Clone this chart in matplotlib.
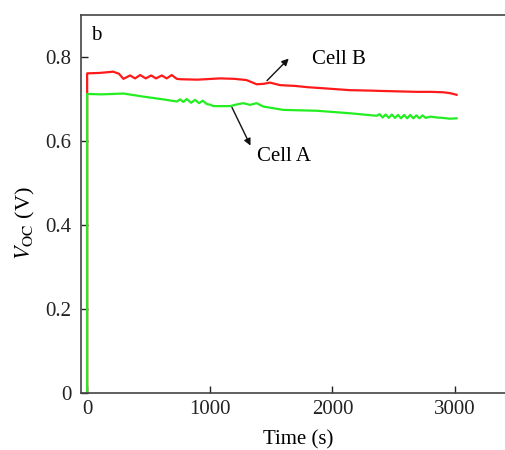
"""Open-circuit voltage vs time for cells A and B (panel b)."""
import matplotlib
matplotlib.use("Agg")
import matplotlib.pyplot as plt

plt.rcParams["font.family"] = ["Liberation Serif", "DejaVu Serif"]
plt.rcParams["mathtext.fontset"] = "stix"

# Cell B (red)
t_b = [0, 0, 100, 212, 260, 296, 350, 391, 432, 478, 522, 562, 609, 649, 690,
       731, 760, 900, 1084, 1200, 1300, 1383, 1437, 1491, 1573, 1700, 1800,
       1950, 2143, 2300, 2415, 2550, 2687, 2800, 2903, 2958, 3013]
v_b = [0, 0.761, 0.762, 0.765, 0.760, 0.748, 0.756, 0.749, 0.757, 0.749, 0.756,
       0.749, 0.756, 0.749, 0.757, 0.748, 0.747, 0.746, 0.749, 0.748, 0.745,
       0.735, 0.736, 0.739, 0.733, 0.731, 0.728, 0.725, 0.721, 0.720, 0.719,
       0.718, 0.717, 0.717, 0.716, 0.714, 0.710]

# Cell A (green)
t_a = [0, 0, 120, 296, 450, 622, 731, 758, 785, 812, 848, 880, 913, 943, 975,
       1008, 1030, 1166, 1220, 1274, 1328, 1382, 1437, 1600, 1872, 2143, 2361,
       2385, 2410, 2435, 2460, 2485, 2510, 2535, 2560, 2585, 2610, 2635, 2660,
       2685, 2710, 2735, 2760, 2800, 2850, 2900, 2958, 3013]
v_a = [0, 0.712, 0.711, 0.713, 0.706, 0.699, 0.694, 0.699, 0.693, 0.700, 0.691,
       0.698, 0.690, 0.696, 0.688, 0.686, 0.683, 0.683, 0.687, 0.690, 0.686,
       0.690, 0.682, 0.674, 0.672, 0.666, 0.660, 0.664, 0.656, 0.663, 0.655,
       0.663, 0.655, 0.662, 0.654, 0.662, 0.654, 0.662, 0.654, 0.661, 0.654,
       0.661, 0.655, 0.658, 0.656, 0.655, 0.653, 0.654]

x_ticks = [0, 1000, 2000, 3000]
y_ticks = [0, 0.2, 0.4, 0.6, 0.8]
y_labels = ["0", "0.2", "0.4", "0.6", "0.8"]

fig = plt.figure(figsize=(5.05, 4.5), dpi=100)
ax = fig.add_axes([0.1604, 0.1267, 0.862, 0.84])

ax.plot(t_b, v_b, color="#ff1a1a", lw=1.6)
ax.plot(t_a, v_a, color="#22ee22", lw=1.6)

ax.set_xlim(-50, 3500)
ax.set_ylim(0, 0.9)
ax.set_xticks(x_ticks)
ax.set_yticks(y_ticks)
ax.set_yticklabels(y_labels)
ax.tick_params(direction="in", length=5, width=1, labelsize=15, colors="#222222")
ax.tick_params(axis="y", pad=7)
ax.tick_params(axis="x", pad=5)
for s in ax.spines.values():
    s.set_color("#444444")
    s.set_linewidth(1.2)

ax.set_xlabel("Time (s)", fontsize=15, labelpad=8)
ax.set_ylabel(r"$V_{\rm OC}$ (V)", fontsize=16)
ax.yaxis.set_label_coords(-0.10, 0.45)

arrow = dict(arrowstyle="-|>", color="#111111", lw=1.0, mutation_scale=10)
ax.annotate("", xy=(1660, 0.801), xytext=(1451, 0.739), arrowprops=arrow)
ax.annotate("", xy=(1342, 0.583), xytext=(1171, 0.686), arrowprops=arrow)
ax.text(2053, 0.793, "Cell B", fontsize=15, ha="center", va="center")
ax.text(1607, 0.563, "Cell A", fontsize=15, ha="center", va="center")
ax.text(0.036, 0.947, "b", transform=ax.transAxes, fontsize=15,
        ha="center", va="center")

fig.savefig("out.png", dpi=100)
